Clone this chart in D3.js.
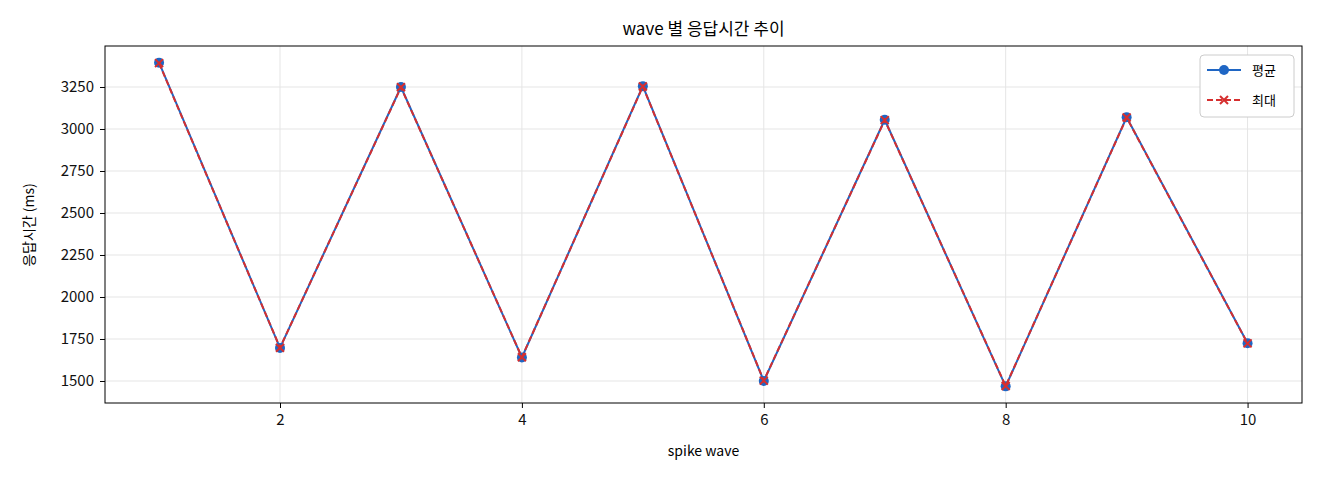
<!DOCTYPE html><html><head><meta charset="utf-8"><script src="https://cdn.jsdelivr.net/npm/d3@7"></script>
<style>body{margin:0;background:#fff}text{font-family:"Noto Sans CJK KR","DejaVu Sans",sans-serif}</style></head><body><svg id="c" width="1320" height="480"></svg><script>
const waves=[1,2,3,4,5,6,7,8,9,10];
const avgVals=[3395,1697,3250,1640,3255,1500,3055,1468,3070,1725];
const maxVals=[3392,1698,3248,1641,3253,1502,3053,1470,3068,1724];
const xTicks=[2,4,6,8,10];
const yTicks=[1500,1750,2000,2250,2500,2750,3000,3250];
const svg=d3.select("#c");
const L=105,R=1302,T=46,B=403;
const x=d3.scaleLinear().domain([0.553,10.45]).range([L,R]);
const y=d3.scaleLinear().domain([1369,3494]).range([B,T]);
const g=svg.append("g");
g.selectAll(".gx").data(xTicks).join("line").attr("x1",d=>x(d)).attr("x2",d=>x(d)).attr("y1",T).attr("y2",B).attr("stroke","#e5e5e5");
g.selectAll(".gy").data(yTicks).join("line").attr("y1",d=>y(d)).attr("y2",d=>y(d)).attr("x1",L).attr("x2",R).attr("stroke","#e5e5e5");
const xa=svg.append("g").attr("transform",`translate(0,${B})`).call(d3.axisBottom(x).tickValues(xTicks).tickSize(5).tickPadding(6).tickFormat(d3.format("d")));
const ya=svg.append("g").attr("transform",`translate(${L},0)`).call(d3.axisLeft(y).tickValues(yTicks).tickSize(5).tickPadding(6).tickFormat(d3.format("d")));
[xa,ya].forEach(a=>{a.select(".domain").remove();a.selectAll("line").attr("stroke","#000");a.selectAll("text").attr("font-size",15).attr("fill","#111");});
svg.append("rect").attr("x",L).attr("y",T).attr("width",R-L).attr("height",B-T).attr("fill","none").attr("stroke","#000");
const line=d3.line().x((d,i)=>x(waves[i])).y(d=>y(d));
svg.append("path").datum(avgVals).attr("d",line).attr("fill","none").attr("stroke","#1f66c4").attr("stroke-width",2);
svg.selectAll(".pa").data(avgVals).join("circle").attr("cx",(d,i)=>x(waves[i])).attr("cy",d=>y(d)).attr("r",5).attr("fill","#1f66c4");
svg.append("path").datum(maxVals).attr("d",line).attr("fill","none").attr("stroke","#d62f2f").attr("stroke-width",2).attr("stroke-dasharray","6,3");
const cross=(s,cx,cy)=>{s.append("path").attr("d",`M${cx-4},${cy-4}L${cx+4},${cy+4}M${cx-4},${cy+4}L${cx+4},${cy-4}`).attr("stroke","#d62f2f").attr("stroke-width",2);};
maxVals.forEach((d,i)=>cross(svg,x(waves[i]),y(d)));
svg.append("text").attr("x",(L+R)/2).attr("y",35).attr("text-anchor","middle").attr("font-size",17).text("wave 별 응답시간 추이");
svg.append("text").attr("x",(L+R)/2).attr("y",456).attr("text-anchor","middle").attr("font-size",14).text("spike wave");
svg.append("text").attr("transform","translate(34,225) rotate(-90)").attr("text-anchor","middle").attr("font-size",14).text("응답시간 (ms)");
const lg=svg.append("g");
lg.append("rect").attr("x",1200).attr("y",55).attr("width",94).attr("height",62).attr("rx",4).attr("fill","#fff").attr("stroke","#ccc");
lg.append("line").attr("x1",1207).attr("x2",1241).attr("y1",70).attr("y2",70).attr("stroke","#1f66c4").attr("stroke-width",2);
lg.append("circle").attr("cx",1224).attr("cy",70).attr("r",5).attr("fill","#1f66c4");
lg.append("text").attr("x",1252).attr("y",75).attr("font-size",13).text("평균");
lg.append("line").attr("x1",1207).attr("x2",1241).attr("y1",100).attr("y2",100).attr("stroke","#d62f2f").attr("stroke-width",2).attr("stroke-dasharray","6,3");
cross(lg,1224,100);
lg.append("text").attr("x",1252).attr("y",105).attr("font-size",13).text("최대");
</script></body></html>
